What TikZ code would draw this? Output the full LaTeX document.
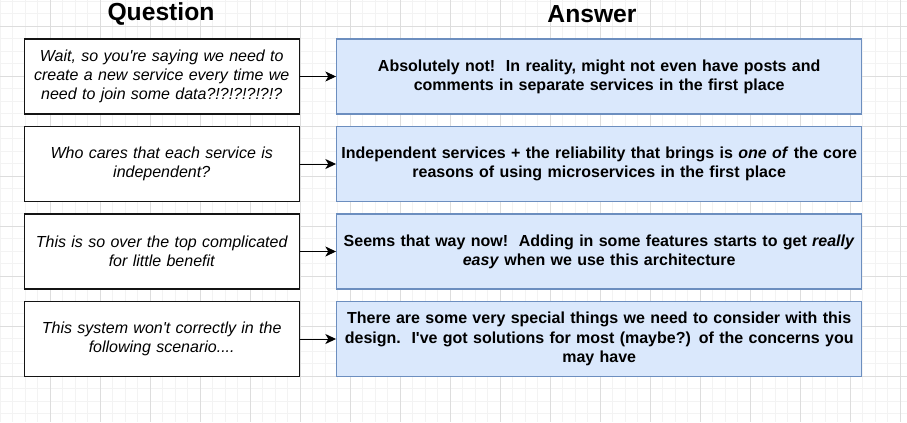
\documentclass[tikz,border=0pt]{standalone}
\usepackage{fontspec}
\setmainfont{Liberation Sans}
\usetikzlibrary{positioning,arrows.meta}
\definecolor{gridmajor}{RGB}{221,221,221}
\definecolor{gridminor}{RGB}{243,243,243}
\definecolor{ansfill}{RGB}{218,232,252}
\definecolor{ansdraw}{RGB}{108,142,191}
\definecolor{inkq}{RGB}{20,20,20}

\begin{document}
\begin{tikzpicture}[x=0.75pt, y=-0.75pt,
  title/.style={font=\fontsize{18.5}{22}\selectfont\bfseries},
  box/.style={draw, line width=1pt, minimum height=56.25pt, align=center, inner sep=0pt, font=\fontsize{12}{14.4}\selectfont},
  qbox/.style={box, draw=inkq, fill=white, minimum width=206.25pt, text width=200pt, font=\fontsize{12}{14.4}\selectfont\itshape},
  abox/.style={box, draw=ansdraw, fill=ansfill, minimum width=393.75pt, text width=388pt, font=\fontsize{12}{14.4}\selectfont\bfseries},
  link/.style={-{Stealth[length=8pt, width=7.5pt, inset=2.2pt]}, line width=0.75pt},
]
\def\qx{161.7}  % question column centre
\def\ax{599.2}  % answer column centre

\useasboundingbox (0,0) rectangle (907,422);
\fill[white] (0,0) rectangle (907,422);

% ---- grid ----
\foreach \i in {0,...,72} \draw[gridminor, line width=0.6pt] (\i*12.5,0) -- (\i*12.5,422);
\foreach \j in {0,...,33} \draw[gridminor, line width=0.6pt] (0,1+\j*12.5) -- (907,1+\j*12.5);
\foreach \i in {1,...,18} \draw[gridmajor, line width=0.6pt] (\i*50,0) -- (\i*50,422);
\foreach \j in {0,...,7} \draw[gridmajor, line width=0.6pt] (0,26+\j*50) -- (907,26+\j*50);

% ---- headers ----
\node[title] (hQ) at (161,14) {Question};
\node[title] (hA) at (592,14) {Answer};

% 1
\node[qbox] (q1) at (\qx,76.5) {Wait, so you\textquotesingle re saying we need to\\create a new service every time we\\need to join some data?!?!?!?!?!?};
\node[abox] (a1) at (\ax,76.5) {Absolutely not!\ \ In reality, might not even have posts and\\comments in separate services in the first place};

% 2
\node[qbox] (q2) at (\qx,164) {Who cares that each service is\\independent?};
\node[abox] (a2) at (\ax,164) {Independent services + the reliability that brings is \textit{one of} the core\\reasons of using microservices in the first place};

% 3
\node[qbox] (q3) at (\qx,251.5) {This is so over the top complicated\\for little benefit};
\node[abox] (a3) at (\ax,251.5) {Seems that way now!\ \ Adding in some features starts to get \textit{really}\\\textit{easy} when we use this architecture};

% 4
\node[qbox] (q4) at (\qx,339) {This system won\textquotesingle t correctly in the\\following scenario....};
\node[abox] (a4) at (\ax,339) {There are some very special things we need to consider with this\\design.\ \ I\textquotesingle ve got solutions for most (maybe?) of the concerns you\\may have};

% ---- arrows ----
\foreach \r in {1,...,4}
  \draw[link] (q\r.east) -- (a\r.west);

\end{tikzpicture}
\end{document}
